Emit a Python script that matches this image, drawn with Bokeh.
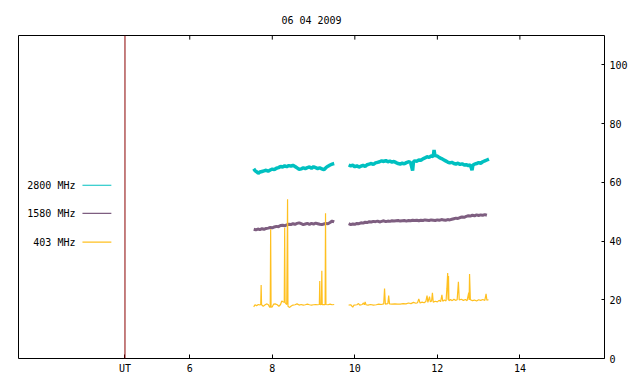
from bokeh.plotting import figure
from bokeh.models import Range1d, FixedTicker, Span
from bokeh.core.properties import value
from bokeh.embed import file_html
from bokeh.resources import INLINE

title_text = "06 04 2009"
x_ticks = [4.43, 6, 8, 10, 12, 14]
x_tick_labels = {4.43: "UT"}
y_ticks = [0, 20, 40, 60, 80, 100]
ut_marker = 4.43
legend_labels = ["2800 MHz", "1580 MHz", "403 MHz"]
colors = ["#00c0c0", "#7e5e80", "#ffc020"]

# 2800 MHz
t2800_a = [7.55, 7.58, 7.62, 7.66, 7.70, 7.75, 7.80, 7.85, 7.90, 7.95, 8.00, 8.05, 8.10, 8.15, 8.20,
           8.25, 8.30, 8.35, 8.40, 8.45, 8.50, 8.55, 8.60, 8.65, 8.70, 8.75, 8.80, 8.85, 8.90, 8.95,
           9.00, 9.05, 9.10, 9.15, 9.20, 9.25, 9.30, 9.35, 9.40, 9.45, 9.50]
v2800_a = [64.6, 64.0, 63.6, 63.1, 63.5, 63.7, 63.9, 64.1, 63.8, 64.2, 64.5, 64.3, 64.8, 65.0, 65.4,
           65.2, 65.6, 65.3, 65.7, 65.5, 65.8, 65.4, 64.9, 64.4, 64.6, 64.9, 64.7, 65.0, 65.2, 64.8,
           65.3, 65.0, 64.7, 64.9, 64.6, 64.3, 65.0, 65.5, 65.9, 66.2, 66.4]
t2800_b = [9.85, 9.90, 9.95, 10.00, 10.05, 10.10, 10.15, 10.20, 10.25, 10.30, 10.35, 10.40, 10.45,
           10.50, 10.55, 10.60, 10.65, 10.70, 10.75, 10.80, 10.85, 10.90, 10.95, 11.00, 11.05, 11.10,
           11.15, 11.20, 11.25, 11.30, 11.35, 11.40, 11.42, 11.45, 11.50, 11.55, 11.60, 11.65, 11.70,
           11.75, 11.80, 11.85, 11.90, 11.92, 11.94, 12.00, 12.05, 12.10, 12.15, 12.20, 12.25, 12.30,
           12.35, 12.40, 12.45, 12.50, 12.55, 12.60, 12.65, 12.70, 12.75, 12.80, 12.84, 12.86, 12.90,
           12.95, 13.00, 13.05, 13.10, 13.15, 13.20, 13.25]
v2800_b = [65.9, 65.6, 65.8, 65.3, 65.6, 65.2, 65.5, 65.8, 65.4, 66.0, 66.2, 66.4, 66.1,
           66.6, 66.8, 67.0, 67.3, 67.1, 67.4, 67.0, 67.2, 66.9, 67.1, 66.7, 66.4, 66.2,
           66.5, 66.3, 66.7, 67.0, 66.8, 64.0, 66.9, 67.3, 67.2, 67.6, 67.5, 68.0, 68.3,
           68.7, 68.5, 69.0, 68.8, 71.0, 69.2, 68.9, 68.4, 68.1, 67.7, 67.3, 66.9, 66.6,
           66.8, 66.4, 66.2, 66.5, 66.1, 66.3, 65.9, 66.0, 65.7, 65.9, 64.1, 65.8, 66.2,
           66.4, 66.7, 66.5, 67.0, 67.3, 67.6, 67.9]

# 1580 MHz
t1580_a = [7.55, 7.60, 7.65, 7.70, 7.75, 7.80, 7.85, 7.90, 7.95, 8.00, 8.05, 8.10, 8.15, 8.20,
           8.25, 8.30, 8.35, 8.40, 8.45, 8.50, 8.55, 8.60, 8.65, 8.70, 8.75, 8.80, 8.85, 8.90,
           8.95, 9.00, 9.05, 9.10, 9.15, 9.20, 9.25, 9.30, 9.35, 9.40, 9.45, 9.50]
v1580_a = [44.0, 43.8, 44.1, 43.9, 44.2, 44.0, 44.3, 44.4, 44.6, 44.5, 44.8, 45.0, 44.9, 45.3,
           45.4, 45.2, 45.5, 45.7, 45.6, 45.9, 45.7, 46.0, 46.2, 45.9, 45.6, 45.8, 46.0, 45.7,
           46.0, 45.8, 46.1, 45.9, 45.7, 45.6, 45.8, 46.0, 45.9, 46.3, 46.8, 46.5]
t1580_b = [9.85, 9.90, 9.95, 10.00, 10.05, 10.10, 10.15, 10.20, 10.25, 10.30, 10.35, 10.40, 10.45,
           10.50, 10.55, 10.60, 10.65, 10.70, 10.75, 10.80, 10.85, 10.90, 10.95, 11.00, 11.05, 11.10,
           11.15, 11.20, 11.25, 11.30, 11.35, 11.40, 11.45, 11.50, 11.55, 11.60, 11.65, 11.70, 11.75,
           11.80, 11.85, 11.90, 11.95, 12.00, 12.05, 12.10, 12.15, 12.20, 12.25, 12.30, 12.35, 12.40,
           12.45, 12.50, 12.55, 12.60, 12.65, 12.70, 12.75, 12.80, 12.85, 12.90, 12.95, 13.00, 13.05,
           13.10, 13.15, 13.20]
v1580_b = [45.9, 45.6, 45.8, 45.7, 46.0, 45.9, 46.2, 46.1, 46.4, 46.3, 46.6, 46.5, 46.7,
           46.6, 46.8, 46.5, 46.7, 46.9, 46.6, 46.8, 46.7, 46.9, 46.8, 46.9, 47.0, 46.8,
           46.9, 47.0, 46.8, 47.0, 46.9, 47.1, 47.0, 47.1, 46.9, 47.1, 47.0, 47.2, 47.1,
           47.0, 47.2, 47.1, 47.0, 47.2, 47.1, 47.3, 47.2, 47.1, 47.3, 47.2, 47.4, 47.6,
           47.8, 47.7, 48.0, 48.2, 48.1, 48.4, 48.6, 48.5, 48.8, 48.6, 48.9, 48.7, 48.9,
           48.8, 49.0, 48.8]

# 403 MHz
t403_a = [7.55, 7.58, 7.62, 7.66, 7.70, 7.72, 7.73, 7.74, 7.78, 7.82, 7.86, 7.90, 7.93, 7.95, 7.96,
          7.97, 8.00, 8.03, 8.07, 8.12, 8.16, 8.20, 8.23, 8.26, 8.29, 8.30, 8.31, 8.35, 8.37, 8.38,
          8.42, 8.46, 8.50, 8.55, 8.60, 8.65, 8.70, 8.75, 8.80, 8.85, 8.90, 8.95, 9.00, 9.05, 9.10,
          9.14, 9.15, 9.16, 9.19, 9.20, 9.21, 9.25, 9.28, 9.29, 9.30, 9.35, 9.40, 9.45, 9.50]
v403_a = [17.6, 18.3, 18.0, 18.4, 18.2, 18.5, 25.0, 18.3, 17.8, 18.2, 18.6, 18.4, 17.6, 17.4, 44.0,
          17.5, 17.6, 18.5, 18.6, 18.3, 17.8, 18.4, 19.6, 19.3, 19.2, 44.5, 19.0, 18.4, 54.2, 17.8,
          17.4, 17.9, 18.2, 18.3, 18.6, 18.2, 18.4, 18.2, 18.3, 18.5, 18.3, 18.2, 18.3, 18.4, 18.3,
          18.4, 26.4, 18.3, 18.4, 29.9, 18.3, 18.4, 18.3, 49.5, 18.4, 18.3, 18.5, 18.3, 18.4]
t403_b = [9.85, 9.90, 9.95, 9.98, 10.05, 10.09, 10.12, 10.18, 10.21, 10.23, 10.25, 10.27, 10.32,
          10.38, 10.45, 10.52, 10.58, 10.64, 10.70, 10.72, 10.74, 10.80, 10.82, 10.84, 10.90, 10.97,
          11.04, 11.10, 11.17, 11.24, 11.30, 11.36, 11.42, 11.48, 11.52, 11.55, 11.58, 11.63, 11.68,
          11.72, 11.75, 11.77, 11.81, 11.83, 11.86, 11.88, 11.90, 11.95, 12.00, 12.04, 12.08, 12.11,
          12.13, 12.17, 12.21, 12.23, 12.25, 12.26, 12.27, 12.28, 12.32, 12.36, 12.40, 12.44, 12.48,
          12.51, 12.53, 12.58, 12.63, 12.68, 12.72, 12.76, 12.77, 12.78, 12.80, 12.85, 12.90, 12.95,
          13.00, 13.05, 13.10, 13.15, 13.18, 13.20, 13.24]
v403_b = [18.2, 18.3, 17.5, 18.2, 18.3, 18.7, 18.2, 18.4, 18.9, 18.3, 19.3, 18.3, 18.2,
          18.4, 18.2, 18.3, 18.5, 18.4, 18.6, 23.8, 18.5, 18.7, 21.4, 18.6, 18.5, 18.6,
          18.5, 18.5, 18.7, 18.6, 18.9, 18.7, 19.1, 18.8, 19.0, 20.3, 18.9, 19.2, 19.0,
          19.4, 21.4, 19.1, 21.1, 19.3, 19.6, 22.4, 19.2, 19.5, 19.3, 19.8, 19.4, 21.7,
          19.5, 19.9, 19.6, 23.7, 29.1, 20.0, 28.1, 19.7, 20.1, 19.7, 20.2, 19.8, 20.0,
          26.1, 19.9, 20.2, 19.8, 20.1, 19.7, 22.4, 19.9, 28.8, 20.0, 19.7, 19.9, 19.6,
          20.0, 19.8, 20.1, 19.8, 22.0, 19.9, 20.0]

FONT = "DejaVu Sans Mono"
Y_MAX = 110

p = figure(width=634, height=376, x_range=Range1d(1.85, 16.05), y_range=Range1d(0, Y_MAX),
           y_axis_location="right", output_backend="svg", toolbar_location=None,
           min_border_left=18, min_border_right=30, min_border_top=35, min_border_bottom=17)
p.background_fill_color = "white"
p.border_fill_color = "white"
p.outline_line_color = "black"
p.outline_line_alpha = 1.0
p.outline_line_width = 1
p.grid.visible = False

p.title.text = title_text
p.title.align = "center"
p.title.text_font = FONT
p.title.text_font_size = "10px"
p.title.text_font_style = "normal"
p.title.text_color = "black"
p.title.standoff = 20

xa = p.xaxis[0]
xa.ticker = FixedTicker(ticks=x_ticks)
xa.major_label_overrides = x_tick_labels
xa.minor_tick_line_color = None
xa.major_tick_in = 4
xa.major_tick_out = 0
xa.axis_line_color = None
xa.major_label_standoff = 4
xa.major_label_text_font = FONT
xa.major_label_text_font_size = "10px"
xa.major_label_text_color = "black"

ya = p.yaxis[0]
ya.ticker = FixedTicker(ticks=y_ticks)
ya.minor_tick_line_color = None
ya.major_tick_in = 3
ya.major_tick_out = 0
ya.axis_line_color = None
ya.major_label_standoff = 5
ya.major_label_text_font = FONT
ya.major_label_text_font_size = "10px"
ya.major_label_text_color = "black"

# mirrored tick marks along the top border
top_ticks = x_ticks[1:]
p.segment(x0=top_ticks, y0=[Y_MAX] * len(top_ticks), x1=top_ticks, y1=[Y_MAX - 1.4] * len(top_ticks),
          color="black", line_width=1)

p.add_layout(Span(location=ut_marker, dimension="height", line_color="#8b0000", line_width=1))

p.line(t2800_a, v2800_a, color=colors[0], line_width=3.5)
p.line(t2800_b, v2800_b, color=colors[0], line_width=3.5)
p.line(t1580_a, v1580_a, color=colors[1], line_width=3)
p.line(t1580_b, v1580_b, color=colors[1], line_width=3)
p.line(t403_a, v403_a, color=colors[2], line_width=1.2)
p.line(t403_b, v403_b, color=colors[2], line_width=1.2)

# key (gnuplot style: label then sample)
key_y = [59.0, 49.4, 39.6]
key_text_x = 3.23
key_x0, key_x1 = 3.40, 4.10
p.text(x=[key_text_x] * 3, y=key_y, text=legend_labels, text_align="right", text_baseline="middle",
       text_font=value(FONT), text_font_size="10px", text_color="black")
p.segment(x0=[key_x0] * 3, y0=key_y, x1=[key_x1] * 3, y1=key_y, color=colors, line_width=1.2)

open("out.html", "w").write(file_html(p, INLINE))
